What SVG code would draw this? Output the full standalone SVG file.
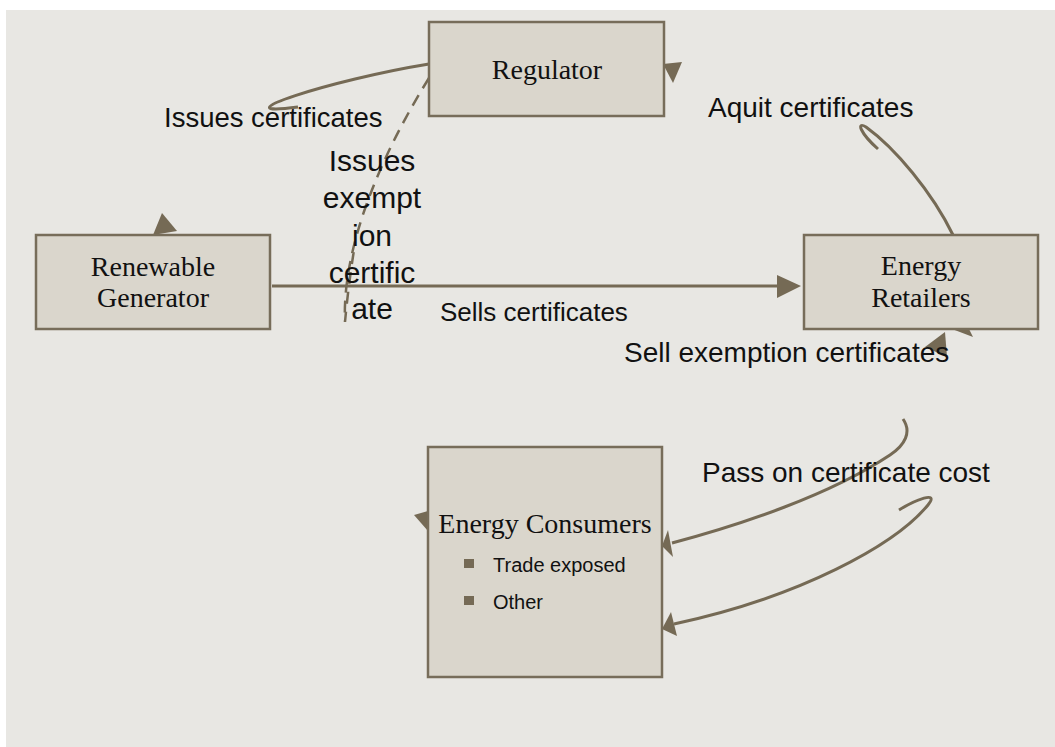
<svg xmlns="http://www.w3.org/2000/svg" width="1055" height="747" viewBox="0 0 1055 747">
<defs>
<style>
.box{fill:#DAD6CC;stroke:#776D5A;stroke-width:2.5}
.nt{font-family:"Liberation Serif","Times New Roman",serif;font-size:28px;fill:#111;text-anchor:middle}
.lb{font-family:"Liberation Sans",Arial,sans-serif;font-size:28px;fill:#111}
.bt{font-family:"Liberation Sans",Arial,sans-serif;font-size:20px;fill:#111}
.ln{fill:none;stroke:#756A55;stroke-width:3}
.ds{fill:none;stroke:#756A55;stroke-width:2.5;stroke-dasharray:12 8}
.ah{fill:#756A55}
</style>
</defs>
<rect x="6" y="10" width="1049" height="737" fill="#E8E7E3"/>
<g id="connectors">
<path class="ln" d="M429,64 C330,80 215,118 298,107"/>
<path class="ds" d="M429,78 C378,160 342,250 345,322 C347,300 350,275 354,250"/>
<path class="ln" d="M953,235 C932,192 895,148 866,127 C856,121 860,133 878,149"/>
<line class="ln" x1="272" y1="286" x2="780" y2="286"/>
<polygon class="ah" points="801,286 777,275 777,298"/>
<path class="ln" d="M903,419 C912,432 905,445 890,455 C830,495 740,525 672,543"/>
<path class="ln" d="M899,510 C915,500 940,490 928,505 C895,545 800,597 674,624"/>
<polygon class="ah" points="662,546 668,530 673,557"/>
<polygon class="ah" points="662,629 671,612 677,636"/>
<polygon class="ah" points="153,235 162,213 177,231"/>
<polygon class="ah" points="663,64 682,62 673,83"/>
<polygon class="ah" points="925,347 945,332 947,357"/>
<polygon class="ah" points="952,329 973,337 969,329"/>
<polygon class="ah" points="414,515 428,511 428,531"/>
</g>
<g id="regulator">
<rect class="box" x="429" y="22" width="235" height="94"/>
<text class="nt" x="547" y="79">Regulator</text>
</g>
<g id="renewable-generator">
<rect class="box" x="36" y="235" width="234" height="94"/>
<text class="nt" x="153" y="276">Renewable</text>
<text class="nt" x="153" y="307">Generator</text>
</g>
<g id="energy-retailers">
<rect class="box" x="804" y="235" width="234" height="94"/>
<text class="nt" x="921" y="275">Energy</text>
<text class="nt" x="921" y="307">Retailers</text>
</g>
<g id="energy-consumers">
<rect class="box" x="428" y="447" width="234" height="230"/>
<text class="nt" x="545" y="533">Energy Consumers</text>
<rect class="ah" x="464" y="559" width="10" height="9"/>
<text class="bt" x="493" y="572">Trade exposed</text>
<rect class="ah" x="464" y="596" width="10" height="9"/>
<text class="bt" x="493" y="609">Other</text>
</g>
<g id="labels">
<text class="lb" x="164" y="127" style="font-size:27.5px">Issues certificates</text>
<text class="lb" x="708" y="117">Aquit certificates</text>
<text class="lb" x="440" y="321" style="font-size:26px">Sells certificates</text>
<text class="lb" x="624" y="362">Sell exemption certificates</text>
<text class="lb" x="702" y="482">Pass on certificate cost</text>
<g class="lb" text-anchor="middle" style="font-size:30px">
<text x="372" y="171">Issues</text>
<text x="372" y="208">exempt</text>
<text x="372" y="246">ion</text>
<text x="372" y="283">certific</text>
<text x="372" y="319">ate</text>
</g>
</g>
</svg>
